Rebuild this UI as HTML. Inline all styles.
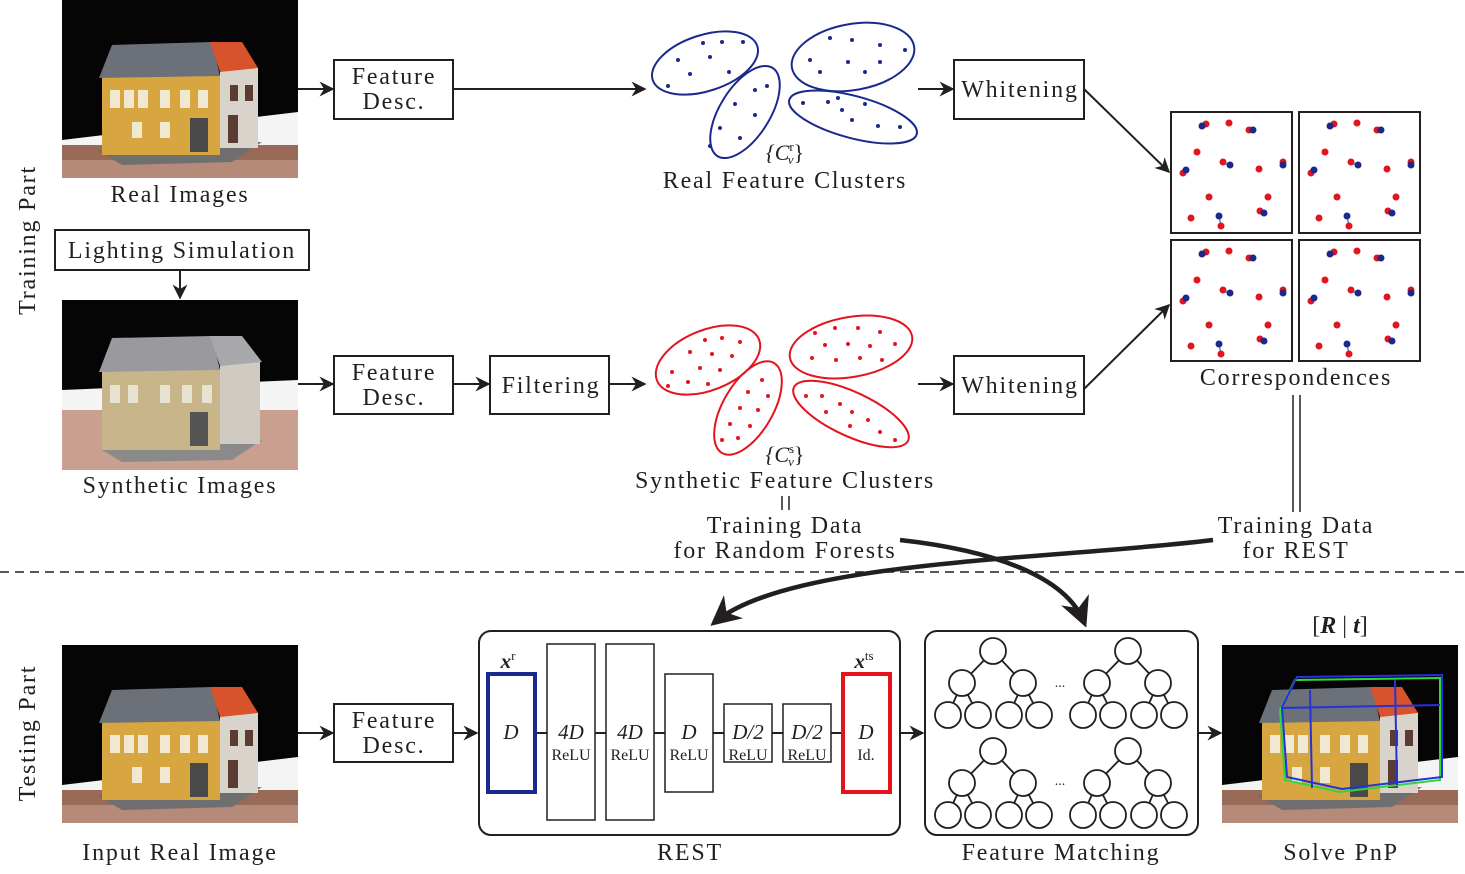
<!DOCTYPE html>
<html><head><meta charset="utf-8"><style>
html,body{margin:0;padding:0;background:#fff;}
svg text{font-family:"Liberation Serif",serif;fill:#231f20;}
.w{letter-spacing:1.8px;}
</style></head><body>
<svg width="1465" height="869" viewBox="0 0 1465 869" xmlns="http://www.w3.org/2000/svg">
<defs>
<marker id="ah" viewBox="0 0 10 10" refX="9" refY="5" markerWidth="15" markerHeight="15" orient="auto" markerUnits="userSpaceOnUse">
<path d="M0,0 L10,5 L0,10 L3,5 z" fill="#231f20"/></marker>
<marker id="ah2" viewBox="0 0 10 10" refX="8" refY="5" markerWidth="30" markerHeight="30" orient="auto" markerUnits="userSpaceOnUse">
<path d="M0,0 L10,5 L0,10 L3,5 z" fill="#231f20"/></marker>
<g id="house">
<rect x="0" y="0" width="236" height="178" fill="#050505"/>
<polygon points="0,140 236,112 236,178 0,178" fill="#f4f4f4"/>
<rect x="0" y="145" width="236" height="33" fill="#9a6a58"/>
<rect x="0" y="160" width="236" height="18" fill="#b58a78"/>
<polygon points="35,150 200,142 170,162 60,165" fill="#6f6f70"/>
<rect x="40" y="75" width="118" height="80" fill="#d8a640"/>
<polygon points="37,78 50,45 150,42 158,76" fill="#6c7078"/>
<rect x="158" y="68" width="38" height="80" fill="#d8d4cc"/>
<polygon points="148,42 180,42 196,68 158,72" fill="#d8522c"/>
<g fill="#f1e8d2">
<rect x="48" y="90" width="10" height="18"/><rect x="62" y="90" width="10" height="18"/><rect x="76" y="90" width="10" height="18"/>
<rect x="98" y="90" width="10" height="18"/><rect x="118" y="90" width="10" height="18"/><rect x="136" y="90" width="10" height="18"/>
<rect x="70" y="122" width="10" height="16"/><rect x="98" y="122" width="10" height="16"/>
</g>
<rect x="128" y="118" width="18" height="34" fill="#4a4a4a"/>
<rect x="168" y="85" width="8" height="16" fill="#5a3c32"/><rect x="183" y="85" width="8" height="16" fill="#5a3c32"/>
<rect x="166" y="115" width="10" height="28" fill="#5a3c32"/>
</g>
</defs>

<text class="w" x="0" y="0" transform="translate(35,240) rotate(-90)" font-size="24" text-anchor="middle">Training Part</text>
<text class="w" x="0" y="0" transform="translate(35,733) rotate(-90)" font-size="24" text-anchor="middle">Testing Part</text>

<use href="#house" x="62" y="0"/>
<text class="w" x="180" y="202" font-size="24" text-anchor="middle">Real Images</text>

<g stroke="#231f20" stroke-width="2" fill="#fff">
<rect x="334" y="60" width="119" height="59"/>
<rect x="954" y="60" width="130" height="59"/>
<rect x="55" y="230" width="254" height="40"/>
<rect x="334" y="356" width="119" height="58"/>
<rect x="490" y="356" width="119" height="58"/>
<rect x="954" y="356" width="130" height="58"/>
<rect x="334" y="704" width="119" height="58"/>
</g>
<g font-size="24" text-anchor="middle" class="w">
<text x="394" y="84">Feature</text><text x="394" y="109">Desc.</text>
<text x="1020" y="97">Whitening</text>
<text x="182" y="258">Lighting Simulation</text>
<text x="394" y="380">Feature</text><text x="394" y="405">Desc.</text>
<text x="551" y="393">Filtering</text>
<text x="1020" y="393">Whitening</text>
<text x="394" y="728">Feature</text><text x="394" y="753">Desc.</text>
</g>

<g stroke="#231f20" stroke-width="2" fill="none" marker-end="url(#ah)">
<line x1="298" y1="89" x2="333" y2="89"/>
<line x1="453" y1="89" x2="645" y2="89"/>
<line x1="918" y1="89" x2="953" y2="89"/>
<line x1="1084" y1="89" x2="1169" y2="172"/>
<line x1="180" y1="270" x2="180" y2="298"/>
<line x1="298" y1="384" x2="333" y2="384"/>
<line x1="453" y1="384" x2="489" y2="384"/>
<line x1="609" y1="384" x2="645" y2="384"/>
<line x1="918" y1="384" x2="953" y2="384"/>
<line x1="1084" y1="389" x2="1169" y2="305"/>
<line x1="298" y1="733" x2="333" y2="733"/>
<line x1="453" y1="733" x2="477" y2="733"/>
<line x1="900" y1="733" x2="923" y2="733"/>
<line x1="1198" y1="733" x2="1221" y2="733"/>
</g>

<g stroke="#1a2a8c" stroke-width="2" fill="none">
<ellipse cx="705" cy="63" rx="55" ry="28" transform="rotate(-18 705 63)"/>
<ellipse cx="745" cy="112" rx="52" ry="25" transform="rotate(-58 745 112)"/>
<ellipse cx="853" cy="57" rx="62" ry="33" transform="rotate(-10 853 57)"/>
<ellipse cx="853" cy="117" rx="66" ry="21" transform="rotate(15 853 117)"/>
</g>
<g fill="#1a2a8c">
<circle cx="703" cy="43" r="2"/><circle cx="722" cy="42" r="2"/><circle cx="743" cy="42" r="2"/><circle cx="678" cy="60" r="2"/><circle cx="710" cy="57" r="2"/><circle cx="690" cy="74" r="2"/><circle cx="668" cy="86" r="2"/><circle cx="729" cy="72" r="2"/>
<circle cx="755" cy="90" r="2"/><circle cx="735" cy="104" r="2"/><circle cx="755" cy="115" r="2"/><circle cx="720" cy="128" r="2"/><circle cx="740" cy="138" r="2"/><circle cx="710" cy="146" r="2"/><circle cx="767" cy="86" r="2"/>
<circle cx="830" cy="38" r="2"/><circle cx="852" cy="40" r="2"/><circle cx="880" cy="45" r="2"/><circle cx="905" cy="50" r="2"/><circle cx="810" cy="60" r="2"/><circle cx="848" cy="62" r="2"/><circle cx="865" cy="72" r="2"/><circle cx="820" cy="72" r="2"/><circle cx="880" cy="62" r="2"/>
<circle cx="803" cy="103" r="2"/><circle cx="828" cy="102" r="2"/><circle cx="842" cy="110" r="2"/><circle cx="865" cy="104" r="2"/><circle cx="852" cy="120" r="2"/><circle cx="878" cy="126" r="2"/><circle cx="900" cy="127" r="2"/><circle cx="838" cy="98" r="2"/>
</g>
<text x="785" y="160" font-size="22" text-anchor="middle" font-style="italic">{C<tspan font-size="13" dy="-9" font-style="normal">r</tspan><tspan font-size="13" dx="-6" dy="13">v</tspan><tspan dy="-4" font-style="normal">}</tspan></text>
<text class="w" x="785" y="188" font-size="24" text-anchor="middle">Real Feature Clusters</text>

<rect x="62" y="300" width="236" height="170" fill="#050505"/>
<g transform="translate(62,300)">
<polygon points="0,90 236,80 236,170 0,170" fill="#f4f4f4"/>
<rect x="0" y="110" width="236" height="60" fill="#c9a090"/>
<polygon points="40,150 200,140 170,160 60,162" fill="#8a8a8a"/>
<rect x="40" y="70" width="118" height="80" fill="#c8b68a"/>
<polygon points="37,72 50,38 150,36 158,70" fill="#9a9a9e"/>
<rect x="158" y="62" width="40" height="82" fill="#cfcac2"/>
<polygon points="148,36 180,36 200,62 158,66" fill="#a8a8aa"/>
<g fill="#e8e2d2"><rect x="48" y="85" width="10" height="18"/><rect x="66" y="85" width="10" height="18"/><rect x="98" y="85" width="10" height="18"/><rect x="120" y="85" width="10" height="18"/><rect x="140" y="85" width="10" height="18"/></g>
<rect x="128" y="112" width="18" height="34" fill="#555"/>
</g>
<text class="w" x="180" y="493" font-size="24" text-anchor="middle">Synthetic Images</text>

<g stroke="#e3141e" stroke-width="2" fill="none">
<ellipse cx="708" cy="360" rx="55" ry="30" transform="rotate(-22 708 360)"/>
<ellipse cx="748" cy="408" rx="52" ry="25" transform="rotate(-60 748 408)"/>
<ellipse cx="851" cy="347" rx="62" ry="30" transform="rotate(-10 851 347)"/>
<ellipse cx="851" cy="414" rx="63" ry="22" transform="rotate(25 851 414)"/>
</g>
<g fill="#e3141e">
<circle cx="705" cy="340" r="2"/><circle cx="722" cy="338" r="2"/><circle cx="740" cy="342" r="2"/><circle cx="690" cy="352" r="2"/><circle cx="712" cy="354" r="2"/><circle cx="732" cy="356" r="2"/><circle cx="672" cy="372" r="2"/><circle cx="700" cy="368" r="2"/><circle cx="720" cy="370" r="2"/><circle cx="688" cy="382" r="2"/><circle cx="708" cy="384" r="2"/><circle cx="668" cy="386" r="2"/>
<circle cx="762" cy="380" r="2"/><circle cx="748" cy="392" r="2"/><circle cx="768" cy="396" r="2"/><circle cx="740" cy="408" r="2"/><circle cx="758" cy="410" r="2"/><circle cx="730" cy="424" r="2"/><circle cx="750" cy="426" r="2"/><circle cx="722" cy="440" r="2"/><circle cx="738" cy="438" r="2"/>
<circle cx="815" cy="333" r="2"/><circle cx="835" cy="328" r="2"/><circle cx="858" cy="328" r="2"/><circle cx="880" cy="332" r="2"/><circle cx="825" cy="345" r="2"/><circle cx="848" cy="344" r="2"/><circle cx="870" cy="346" r="2"/><circle cx="895" cy="344" r="2"/><circle cx="812" cy="358" r="2"/><circle cx="836" cy="360" r="2"/><circle cx="860" cy="358" r="2"/><circle cx="882" cy="360" r="2"/>
<circle cx="806" cy="396" r="2"/><circle cx="822" cy="396" r="2"/><circle cx="840" cy="404" r="2"/><circle cx="826" cy="412" r="2"/><circle cx="852" cy="412" r="2"/><circle cx="868" cy="420" r="2"/><circle cx="850" cy="426" r="2"/><circle cx="880" cy="432" r="2"/><circle cx="895" cy="440" r="2"/>
</g>
<text x="785" y="462" font-size="22" text-anchor="middle" font-style="italic">{C<tspan font-size="13" dy="-9" font-style="normal">s</tspan><tspan font-size="13" dx="-6" dy="13">v</tspan><tspan dy="-4" font-style="normal">}</tspan></text>
<text class="w" x="785" y="488" font-size="24" text-anchor="middle">Synthetic Feature Clusters</text>
<g stroke="#231f20" stroke-width="1.5"><line x1="782" y1="496" x2="782" y2="510"/><line x1="789" y1="496" x2="789" y2="510"/></g>
<text class="w" x="785" y="533" font-size="24" text-anchor="middle">Training Data</text>
<text class="w" x="785" y="558" font-size="24" text-anchor="middle">for Random Forests</text>

<g id="cbox">
<rect x="1171" y="112" width="121" height="121" fill="#fff" stroke="#231f20" stroke-width="2"/>
<g stroke="#29a3e0" stroke-width="1.5"><line x1="1203" y1="125" x2="1207" y2="124"/><line x1="1186" y1="170" x2="1183" y2="173"/><line x1="1223" y1="163" x2="1230" y2="165"/><line x1="1219" y1="216" x2="1221" y2="226"/><line x1="1260" y1="211" x2="1263" y2="213"/></g>
<g fill="#e3141e"><circle cx="1206" cy="124" r="3.5"/><circle cx="1229" cy="123" r="3.5"/><circle cx="1249" cy="130" r="3.5"/><circle cx="1197" cy="152" r="3.5"/><circle cx="1183" cy="173" r="3.5"/><circle cx="1223" cy="162" r="3.5"/><circle cx="1259" cy="169" r="3.5"/><circle cx="1283" cy="162" r="3.5"/><circle cx="1209" cy="197" r="3.5"/><circle cx="1268" cy="197" r="3.5"/><circle cx="1191" cy="218" r="3.5"/><circle cx="1221" cy="226" r="3.5"/><circle cx="1260" cy="211" r="3.5"/></g>
<g fill="#1a2a8c"><circle cx="1202" cy="126" r="3.5"/><circle cx="1253" cy="130" r="3.5"/><circle cx="1186" cy="170" r="3.5"/><circle cx="1230" cy="165" r="3.5"/><circle cx="1283" cy="165" r="3.5"/><circle cx="1219" cy="216" r="3.5"/><circle cx="1264" cy="213" r="3.5"/></g>
</g>
<use href="#cbox" x="128" y="0"/>
<use href="#cbox" x="0" y="128"/>
<use href="#cbox" x="128" y="128"/>
<text class="w" x="1296" y="385" font-size="24" text-anchor="middle">Correspondences</text>
<g stroke="#231f20" stroke-width="1.5"><line x1="1293" y1="395" x2="1293" y2="512"/><line x1="1300" y1="395" x2="1300" y2="512"/></g>
<text class="w" x="1296" y="533" font-size="24" text-anchor="middle">Training Data</text>
<text class="w" x="1296" y="558" font-size="24" text-anchor="middle">for REST</text>

<line x1="0" y1="572" x2="1465" y2="572" stroke="#231f20" stroke-width="1.5" stroke-dasharray="9,6"/>

<path d="M1213,540 C1050,560 790,560 715,622" stroke="#231f20" stroke-width="4.5" fill="none" marker-end="url(#ah2)"/>
<path d="M900,540 C990,550 1065,575 1084,622" stroke="#231f20" stroke-width="4.5" fill="none" marker-end="url(#ah2)"/>

<use href="#house" x="62" y="645"/>
<text class="w" x="180" y="860" font-size="24" text-anchor="middle">Input Real Image</text>

<rect x="479" y="631" width="421" height="204" rx="12" fill="none" stroke="#231f20" stroke-width="2"/>
<line x1="536" y1="733" x2="842" y2="733" stroke="#231f20" stroke-width="2"/>
<g stroke="#231f20" stroke-width="1.5" fill="#fff">
<rect x="547" y="644" width="48" height="176"/>
<rect x="606" y="644" width="48" height="176"/>
<rect x="665" y="674" width="48" height="118"/>
<rect x="724" y="704" width="48" height="58"/>
<rect x="783" y="704" width="48" height="58"/>
</g>
<rect x="488" y="674" width="47" height="118" fill="#fff" stroke="#1a2a8c" stroke-width="4"/>
<rect x="843" y="674" width="47" height="118" fill="#fff" stroke="#e3141e" stroke-width="4"/>
<g font-size="21" text-anchor="middle">
<text x="511" y="739" font-style="italic">D</text>
<text x="571" y="739" font-style="italic">4D</text><text x="571" y="760" font-size="16">ReLU</text>
<text x="630" y="739" font-style="italic">4D</text><text x="630" y="760" font-size="16">ReLU</text>
<text x="689" y="739" font-style="italic">D</text><text x="689" y="760" font-size="16">ReLU</text>
<text x="748" y="739" font-style="italic">D/2</text><text x="748" y="760" font-size="16">ReLU</text>
<text x="807" y="739" font-style="italic">D/2</text><text x="807" y="760" font-size="16">ReLU</text>
<text x="866" y="739" font-style="italic">D</text><text x="866" y="760" font-size="16">Id.</text>
<text x="508" y="668" font-style="italic" font-weight="bold">x<tspan font-size="13" dy="-8" font-weight="normal" font-style="normal">r</tspan></text>
<text x="864" y="668" font-style="italic" font-weight="bold">x<tspan font-size="13" dy="-8" font-weight="normal" font-style="normal">ts</tspan></text>
</g>
<text class="w" x="690" y="860" font-size="24" text-anchor="middle">REST</text>

<rect x="925" y="631" width="273" height="204" rx="12" fill="none" stroke="#231f20" stroke-width="2"/>
<g id="tree" stroke="#231f20" stroke-width="1.8" fill="#fff">
<line x1="993" y1="651" x2="962" y2="683"/><line x1="993" y1="651" x2="1023" y2="683"/>
<line x1="962" y1="683" x2="948" y2="715"/><line x1="962" y1="683" x2="978" y2="715"/>
<line x1="1023" y1="683" x2="1009" y2="715"/><line x1="1023" y1="683" x2="1039" y2="715"/>
<circle cx="993" cy="651" r="13"/><circle cx="962" cy="683" r="13"/><circle cx="1023" cy="683" r="13"/>
<circle cx="948" cy="715" r="13"/><circle cx="978" cy="715" r="13"/><circle cx="1009" cy="715" r="13"/><circle cx="1039" cy="715" r="13"/>
</g>
<use href="#tree" x="135" y="0"/>
<use href="#tree" x="0" y="100"/>
<use href="#tree" x="135" y="100"/>
<text x="1060" y="687" font-size="14" text-anchor="middle">...</text>
<text x="1060" y="785" font-size="14" text-anchor="middle">...</text>
<text class="w" x="1061" y="860" font-size="24" text-anchor="middle">Feature Matching</text>

<use href="#house" x="1222" y="645"/>
<g fill="none" stroke-width="2">
<polygon points="1280,710 1295,680 1440,678 1440,780 1340,792 1285,780" stroke="#2fd640"/>
<polygon points="1280,710 1295,680 1440,678 1440,780 1340,792 1285,780" stroke="#2432d8" transform="translate(2,-3)"/>
<line x1="1310" y1="690" x2="1312" y2="788" stroke="#2432d8"/>
<line x1="1395" y1="680" x2="1397" y2="785" stroke="#2432d8"/>
<line x1="1282" y1="708" x2="1440" y2="705" stroke="#2432d8"/>
</g>
<text x="1340" y="633" font-size="24" text-anchor="middle">[<tspan font-weight="bold" font-style="italic">R</tspan> | <tspan font-weight="bold" font-style="italic">t</tspan>]</text>
<text class="w" x="1341" y="860" font-size="24" text-anchor="middle">Solve PnP</text>
</svg>
</body></html>
